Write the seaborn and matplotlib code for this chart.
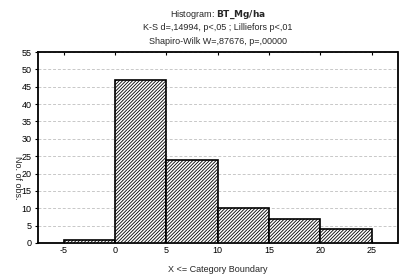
import matplotlib
matplotlib.use("Agg")
import matplotlib.pyplot as plt
import seaborn as sns
import numpy as np

bin_edges = [-5, 0, 5, 10, 15, 20, 25]
counts = [1, 47, 24, 10, 7, 4]
bin_centers = [-2.5, 2.5, 7.5, 12.5, 17.5, 22.5]
x_ticks = [-5, 0, 5, 10, 15, 20, 25]
y_ticks = [0, 5, 10, 15, 20, 25, 30, 35, 40, 45, 50, 55]

sns.set_style("white")
plt.rcParams['font.family'] = ['Liberation Sans', 'DejaVu Sans']
plt.rcParams['hatch.linewidth'] = 0.6
plt.rcParams['axes.unicode_minus'] = False

fig = plt.figure(figsize=(4, 2.75), dpi=100)
ax = fig.add_axes([38/400, 1-243/275, (397.5-38)/400, (243-52)/275])

sns.histplot(x=bin_centers, weights=counts, bins=bin_edges, ax=ax,
             color="white", edgecolor="black", linewidth=1.2, alpha=1,
             hatch="//////////", zorder=3)

ax.set_xlim(-7.5, 27.5)
ax.set_ylim(0, 55)
ax.set_xticks(x_ticks)
ax.set_yticks(y_ticks)
ax.tick_params(axis='both', labelsize=6.5, length=2.5, width=0.8, pad=2, colors='black')
ax.tick_params(axis='x', top=True, bottom=True, direction='in')
ax.tick_params(axis='y', left=True, direction='out')
ax.yaxis.grid(True, linestyle=(0, (3, 2)), color='#c8c8c8', linewidth=0.7, zorder=0)
ax.set_axisbelow(True)
for s in ax.spines.values():
    s.set_linewidth(1.3)
    s.set_color('black')
ax.set_xlabel("X <= Category Boundary", fontsize=6.5, labelpad=7)
ax.set_ylabel("No. of obs.", fontsize=6.5, rotation=-90, va='center', ha='center')
ax.yaxis.set_label_coords((17-38)/359.5, 0.34)

cx = (38 + 397.5) / 2 / 400
fig.text(cx, 1-15/275, "Histogram: $\\bf{BT\\_Mg/ha}$", ha='center', va='center', fontsize=6.5)
fig.text(cx, 1-28/275, "K-S d=,14994, p<,05 ; Lilliefors p<,01", ha='center', va='center', fontsize=6.5)
fig.text(cx, 1-41/275, "Shapiro-Wilk W=,87676, p=,00000", ha='center', va='center', fontsize=6.5)

fig.savefig("out.png", dpi=100)
